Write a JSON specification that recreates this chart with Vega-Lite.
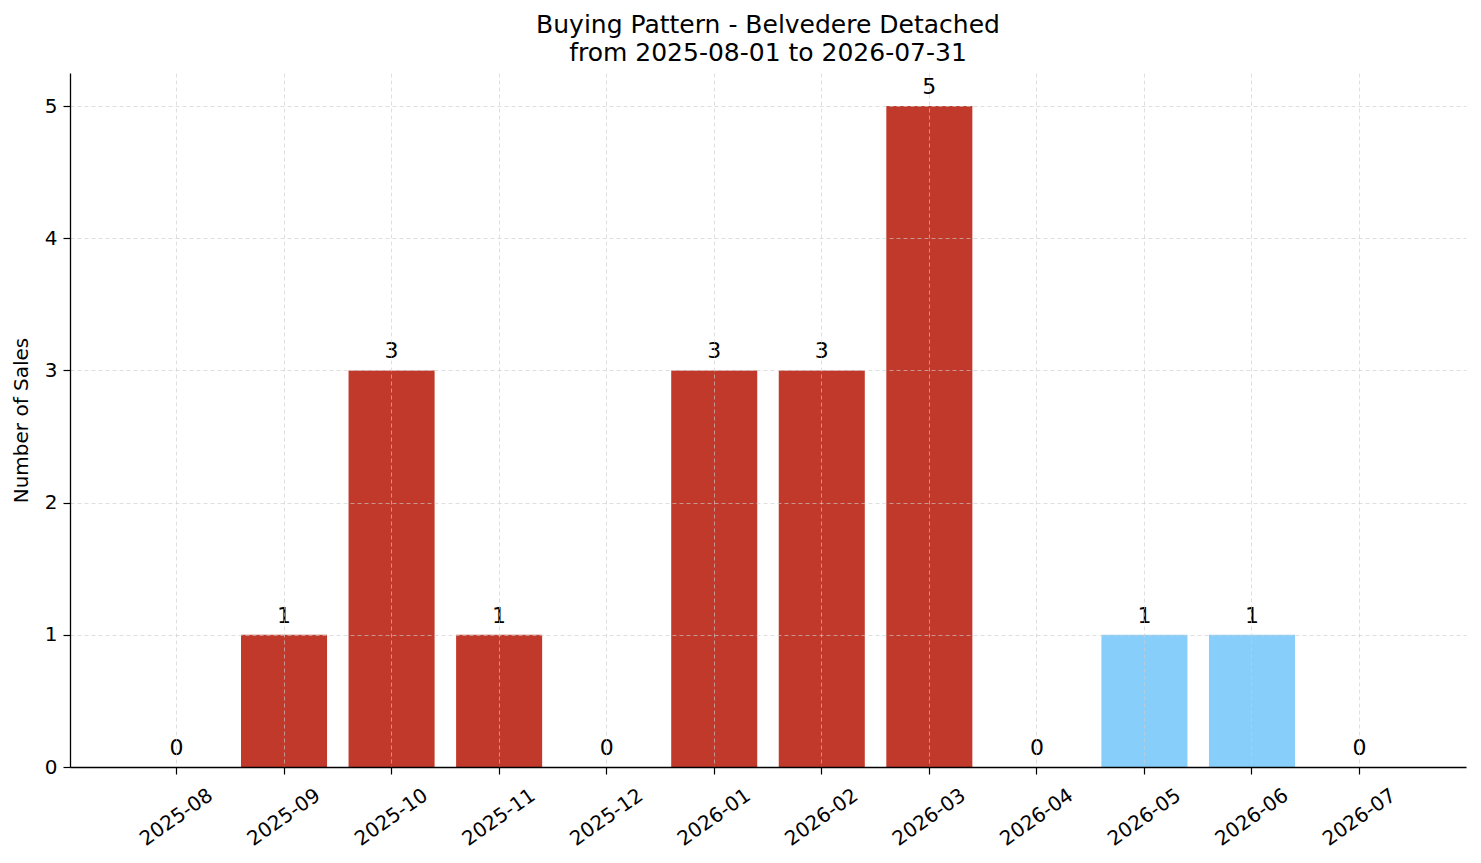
{
  "$schema": "https://vega.github.io/schema/vega-lite/v6.json",
  "width": 1396,
  "height": 694,
  "autosize": {"type": "none"},
  "padding": {"left": 70, "top": 73, "right": 15, "bottom": 96},
  "background": "white",
  "title": {
    "text": ["Buying Pattern - Belvedere Detached", "from 2025-08-01 to 2026-07-31"],
    "font": "DejaVu Sans",
    "fontSize": 25,
    "fontWeight": "normal",
    "color": "black",
    "anchor": "middle",
    "lineHeight": 28,
    "offset": 7
  },
  "data": {
    "values": [
      {"month": "2025-08", "sales": 0, "status": "past"},
      {"month": "2025-09", "sales": 1, "status": "past"},
      {"month": "2025-10", "sales": 3, "status": "past"},
      {"month": "2025-11", "sales": 1, "status": "past"},
      {"month": "2025-12", "sales": 0, "status": "past"},
      {"month": "2026-01", "sales": 3, "status": "past"},
      {"month": "2026-02", "sales": 3, "status": "past"},
      {"month": "2026-03", "sales": 5, "status": "past"},
      {"month": "2026-04", "sales": 0, "status": "past"},
      {"month": "2026-05", "sales": 1, "status": "future"},
      {"month": "2026-06", "sales": 1, "status": "future"},
      {"month": "2026-07", "sales": 0, "status": "future"}
    ]
  },
  "encoding": {
    "x": {
      "field": "month",
      "type": "ordinal",
      "sort": null,
      "title": null,
      "scale": {"paddingInner": 0.2, "paddingOuter": 0.59},
      "axis": {
        "bandPosition": 0.5,
        "labelAngle": -35,
        "labelAlign": "center",
        "labelBaseline": "middle",
        "labelPadding": 43,
        "tickSize": 7,
        "grid": true,
        "zindex": 1
      }
    },
    "y": {
      "field": "sales",
      "type": "quantitative",
      "title": "Number of Sales",
      "scale": {"domain": [0, 5.25], "nice": false},
      "axis": {
        "values": [0, 1, 2, 3, 4, 5],
        "tickSize": 7,
        "labelPadding": 6,
        "grid": true,
        "zindex": 1,
        "titlePadding": 13
      }
    }
  },
  "layer": [
    {
      "mark": {"type": "bar"},
      "encoding": {
        "color": {
          "field": "status",
          "type": "nominal",
          "scale": {"domain": ["past", "future"], "range": ["#c0392b", "#87cefa"]},
          "legend": null
        }
      }
    },
    {
      "mark": {"type": "text", "baseline": "bottom", "dy": -7, "font": "DejaVu Sans", "fontSize": 22, "color": "black"},
      "encoding": {
        "text": {"field": "sales", "type": "quantitative"}
      }
    }
  ],
  "config": {
    "view": {"stroke": null},
    "axis": {
      "labelFont": "DejaVu Sans",
      "labelFontSize": 20,
      "labelColor": "black",
      "titleFont": "DejaVu Sans",
      "titleFontSize": 20,
      "titleFontWeight": "normal",
      "titleColor": "black",
      "domainColor": "black",
      "domainWidth": 1.3,
      "tickColor": "black",
      "tickWidth": 1.2,
      "gridColor": "#cccccc",
      "gridOpacity": 0.8,
      "gridDash": [4, 3],
      "gridWidth": 0.8
    }
  }
}
